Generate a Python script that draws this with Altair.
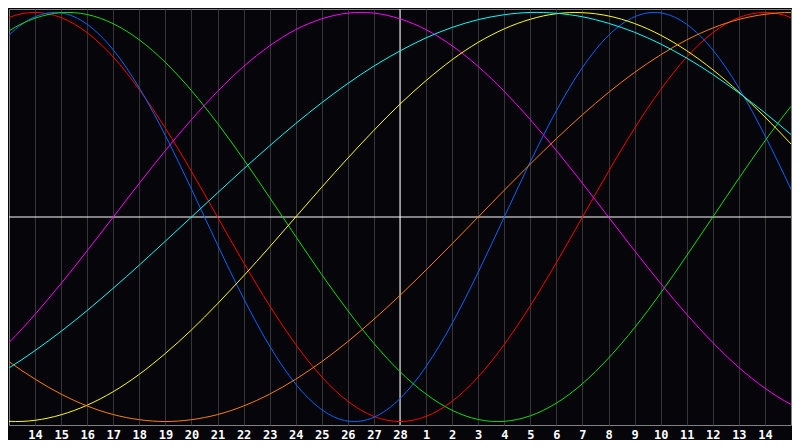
import altair as alt
import pandas as pd

# day labels (x axis), index 0..28
day_labels = [str(d) for d in range(14, 29)] + [str(d) for d in range(1, 15)]
# day index for each sample (-2 .. 30)
days = list(range(-2, 31))

red = [0.901, 0.975, 1.0, 0.975, 0.901, 0.782, 0.623, 0.434, 0.223, 0.0, -0.223, -0.434, -0.623, -0.782,
       -0.901, -0.975, -1.0, -0.975, -0.901, -0.782, -0.623, -0.434, -0.223, 0.0, 0.223, 0.434, 0.623,
       0.782, 0.901, 0.975, 1.0, 0.975, 0.901]
blue = [0.731, 0.888, 0.979, 0.998, 0.942, 0.817, 0.631, 0.398, 0.136, -0.136, -0.398, -0.631, -0.817,
        -0.942, -0.998, -0.979, -0.888, -0.731, -0.520, -0.270, 0.0, 0.270, 0.520, 0.731, 0.888, 0.979,
        0.998, 0.942, 0.817, 0.631, 0.398, 0.136, -0.136]
green = [0.815, 0.910, 0.972, 0.999, 0.990, 0.945, 0.866, 0.756, 0.618, 0.458, 0.282, 0.095, -0.095,
         -0.282, -0.458, -0.618, -0.756, -0.866, -0.945, -0.990, -0.999, -0.972, -0.910, -0.815, -0.690,
         -0.541, -0.372, -0.189, 0.0, 0.189, 0.372, 0.541, 0.690]
magenta = [-0.736, -0.614, -0.476, -0.325, -0.165, 0.0, 0.165, 0.325, 0.476, 0.614, 0.736, 0.837, 0.916,
           0.969, 0.997, 0.997, 0.969, 0.916, 0.837, 0.736, 0.614, 0.476, 0.325, 0.165, 0.0, -0.165,
           -0.325, -0.476, -0.614, -0.736, -0.837, -0.916, -0.969]
yellow = [-0.983, -0.999, -0.994, -0.967, -0.92, -0.854, -0.769, -0.667, -0.552, -0.424, -0.288, -0.146,
          0.0, 0.146, 0.288, 0.424, 0.552, 0.667, 0.769, 0.854, 0.92, 0.967, 0.994, 0.999, 0.983, 0.946,
          0.889, 0.813, 0.72, 0.611, 0.489, 0.357, 0.217]
orange = [-0.609, -0.707, -0.793, -0.866, -0.924, -0.966, -0.991, -1.0, -0.991, -0.966, -0.924, -0.866,
          -0.793, -0.707, -0.609, -0.5, -0.383, -0.259, -0.131, 0.0, 0.131, 0.259, 0.383, 0.5, 0.609,
          0.707, 0.793, 0.866, 0.924, 0.966, 0.991, 1.0, 0.991]
cyan = [-0.812, -0.738, -0.653, -0.559, -0.457, -0.348, -0.235, -0.118, 0.0, 0.118, 0.235, 0.348, 0.457,
        0.559, 0.653, 0.738, 0.812, 0.876, 0.927, 0.965, 0.989, 1.0, 0.996, 0.979, 0.947, 0.903, 0.846,
        0.777, 0.697, 0.607, 0.509, 0.403, 0.292]

names = ["red", "blue", "green", "magenta", "yellow", "orange", "cyan"]
series = [red, blue, green, magenta, yellow, orange, cyan]
colors = ["#ff0000", "#0a64ff", "#11dd11", "#ff00ff", "#ffff00", "#ff7f00", "#00ffff"]

rows = []
for n, vals in zip(names, series):
    for d, v in zip(days, vals):
        rows.append({"x": d, "v": v, "s": n})
df = pd.DataFrame(rows)

label_expr = "".join(
    "datum.value == %d ? '%s' : " % (i, s) for i, s in enumerate(day_labels)) + "''"

xscale = alt.Scale(domain=[-1, 29], nice=False, zero=False)
yscale = alt.Scale(domain=[-1.017, 1.017], nice=False)
xaxis = alt.Axis(values=list(range(29)), labelExpr=label_expr, grid=True,
                 gridColor="#363636", gridWidth=1, ticks=False, domain=False,
                 labelColor="white", labelFont="DejaVu Sans Mono", labelFontWeight="bold",
                 labelFontSize=12, labelPadding=4, title=None)

lines = alt.Chart(df).mark_line(strokeWidth=1, interpolate="natural", clip=True).encode(
    x=alt.X("x:Q", scale=xscale, axis=xaxis),
    y=alt.Y("v:Q", scale=yscale, axis=None),
    color=alt.Color("s:N", scale=alt.Scale(domain=names, range=colors), legend=None),
)
vrule = alt.Chart(pd.DataFrame({"x": [14]})).mark_rule(color="white", strokeWidth=1).encode(
    x=alt.X("x:Q", scale=xscale, axis=xaxis))
hrule = alt.Chart(pd.DataFrame({"v": [0]})).mark_rule(color="white", strokeWidth=1).encode(
    y=alt.Y("v:Q", scale=yscale, axis=None))

chart = alt.layer(vrule, hrule, lines).properties(
    width=784, height=432, background="#05050a", padding=0,
    autosize=alt.AutoSizeParams(type="fit", contains="padding"),
).configure_view(stroke="#808080", strokeWidth=1, fill="#05050a")

chart.save("out.html", embed_options={"renderer": "svg", "actions": False})
